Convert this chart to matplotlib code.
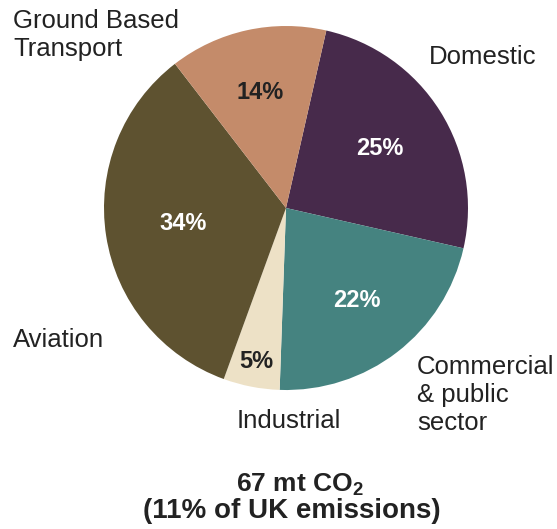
import numpy as np
import matplotlib
matplotlib.use("Agg")
import matplotlib.pyplot as plt

plt.rcParams['font.family'] = ['Liberation Sans', 'DejaVu Sans']
plt.rcParams['mathtext.fontset'] = 'custom'
plt.rcParams['mathtext.rm'] = 'Liberation Sans'
plt.rcParams['mathtext.bf'] = 'Liberation Sans:bold'

# data, clockwise from the top
sectors = ['Domestic', 'Commercial & public sector', 'Industrial', 'Aviation', 'Ground Based Transport']
shares = [25, 22, 5, 34, 14]
colors = ['#472a4b', '#458380', '#ede1c6', '#5e5230', '#c48b6a']
pct_colors = ['white', 'white', '#222222', 'white', '#222222']
pct_radius = [0.61, 0.64, 0.86, 0.57, 0.65]

fig = plt.figure(figsize=(5.57, 5.29), dpi=100)
ax = fig.add_axes([0, 0, 1, 1])

cx, cy, R = 286, 321, 182
wedges, _ = ax.pie(shares, colors=colors, startangle=77.2, counterclock=False,
                   center=(cx, cy), radius=R, frame=True,
                   wedgeprops=dict(linewidth=0))
ax.set_xlim(0, 557)
ax.set_ylim(0, 529)
ax.set_aspect('equal')
ax.axis('off')

for w, s, c, f in zip(wedges, shares, pct_colors, pct_radius):
    mid = np.deg2rad((w.theta1 + w.theta2) / 2)
    ax.text(cx + f * R * np.cos(mid), cy + f * R * np.sin(mid), f'{s}%',
            ha='center', va='center', fontsize=17, fontweight='bold', color=c)

lab = dict(fontsize=18.5, color='#222222', va='center', linespacing=1.22)
ax.text(13, 494, 'Ground Based\nTransport', ha='left', **lab)
ax.text(429, 472, 'Domestic', ha='left', **lab)
ax.text(13, 189, 'Aviation', ha='left', **lab)
ax.text(417, 134, 'Commercial\n& public\nsector', ha='left', **lab)
ax.text(289, 108, 'Industrial', ha='center', **lab)

ax.text(300, 37, '67 mt CO$_\\mathbf{2}$', ha='center', va='baseline',
        fontsize=19, fontweight='bold', color='#222222')
ax.text(292, 11, '(11% of UK emissions)', ha='center', va='baseline',
        fontsize=20, fontweight='bold', color='#222222')

fig.savefig('out.png', dpi=100)
